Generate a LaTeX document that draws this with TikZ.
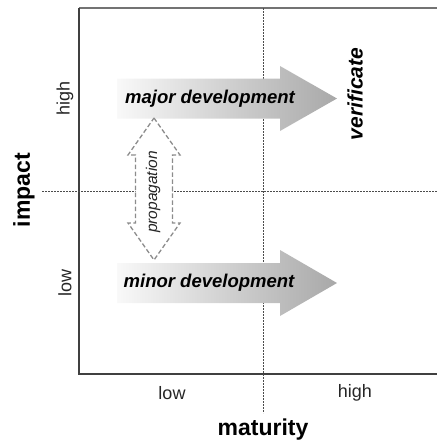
\documentclass[tikz,border=0pt]{standalone}
\usepackage{fontspec}
\setmainfont{Liberation Sans}
\usetikzlibrary{arrows,calc,positioning,shapes}
\tikzset{%
	ticklabel/.style = {font=\fontsize{18}{20}\selectfont, text=black!85, inner sep=0pt},
	axistitle/.style = {font=\bfseries\fontsize{23}{26}\selectfont, inner sep=0pt},
	phase/.style     = {font=\bfseries\itshape\fontsize{18.5}{20}\selectfont, inner sep=0pt},
	devarrow/.style  = {left color=gray!5, right color=gray!68},
	midline/.style   = {black!70, line width=0.7pt, dash pattern=on 2pt off 1pt},
	frame/.style     = {black!75, line width=1.5pt},
}

\begin{document}
\begin{tikzpicture}[x=1pt,y=-1pt]
	\useasboundingbox (0,0) rectangle (437,445);
	
	% quadrant frame and the two split lines
	\draw[frame,black!55] (79,8) -- (437,8);
	\draw[frame] (79,8) -- (79,374) -- (437,374);
	\draw[midline] (263,8) -- (263,413);
	\draw[midline] (42,191) -- (437,191);
	
	% development arrows
	\path[devarrow] (117,78.5) -- (280,78.5) -- (280,66) -- (337,98.5) -- (280,131) -- (280,118.5) -- (117,118.5) -- cycle;
	\node[phase] (major) at (210,99) {major development};
	\path[devarrow] (117,263) -- (280,263) -- (280,250) -- (337,283) -- (280,316) -- (280,303) -- (117,303) -- cycle;
	\node[phase] (minor) at (209,283) {minor development};
	\node[phase,font=\bfseries\itshape\fontsize{21}{24}\selectfont,rotate=90] (verif) at (355,94) {verificate};
	
	% propagation between both levels
	\draw[gray!90,fill=white,line width=1.3pt,dash pattern=on 4.5pt off 2.5pt] (154,118) -- (180,155) -- (172.5,155) -- (172.5,223) -- (180,223) -- (154,260) -- (128,223) -- (135.5,223) -- (135.5,155) -- (128,155) -- cycle;
	\node[font=\itshape\fontsize{15.5}{17}\selectfont,text=black!85,rotate=90,inner sep=0pt] (prop) at (153,192) {propagation};
	
	% axes
	\node[ticklabel,rotate=90] (ihigh) at (65,98) {high};
	\node[ticklabel,rotate=90] (ilow) at (65,283) {low};
	\node[axistitle,rotate=90] (impact) at (24,190) {impact};
	\node[ticklabel] (mlow) at (172,393) {low};
	\node[ticklabel] (mhigh) at (355,393) {high};
	\node[axistitle] (maturity) at (263,430) {maturity};
\end{tikzpicture}
\end{document}
